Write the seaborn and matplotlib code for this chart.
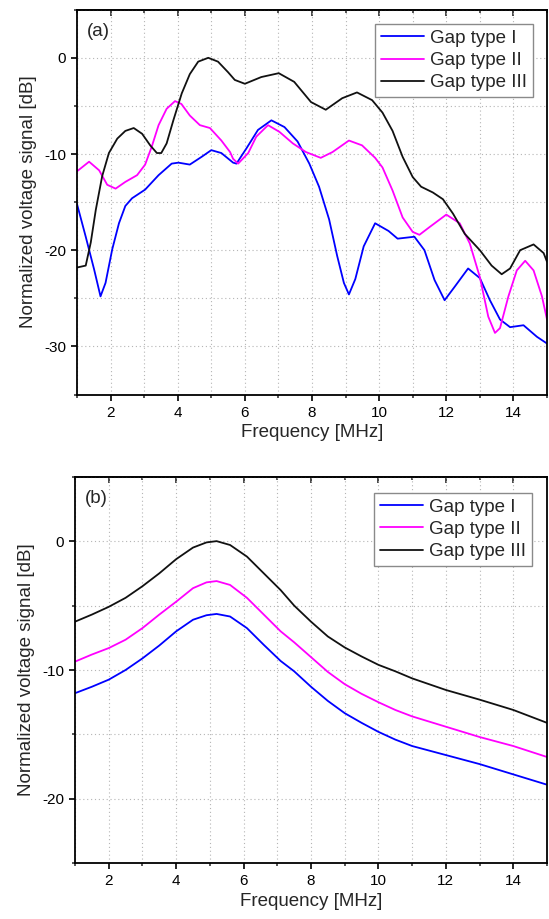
import pandas as pd
import seaborn as sns
import matplotlib
matplotlib.use("Agg")
import matplotlib.pyplot as plt
from matplotlib.ticker import MultipleLocator

sns.set_theme(style="ticks")
plt.rcParams['font.family'] = ['Liberation Sans', 'DejaVu Sans']
plt.rcParams['axes.unicode_minus'] = False

gap_names = ['Gap type I', 'Gap type II', 'Gap type III']
gap_colors = ['#0000ff', '#ff00ff', '#111111']

# panel (a) - measured spectra
gap1_a_freq = [1.0, 1.26, 1.51, 1.70, 1.85, 2.05, 2.25, 2.44, 2.64, 3.03, 3.43, 3.82, 4.02, 4.36,
               4.71, 5.0, 5.3, 5.65, 5.75, 6.05, 6.39, 6.79, 7.18, 7.57, 7.92, 8.21, 8.51, 8.75,
               8.95, 9.1, 9.29, 9.54, 9.88, 10.28, 10.55, 11.05, 11.35, 11.65, 11.95, 12.25,
               12.65, 13.0, 13.3, 13.6, 13.9, 14.3, 14.7, 15.0]
gap1_a_db = [-15.2, -18.6, -22.0, -24.8, -23.4, -19.9, -17.2, -15.4, -14.6, -13.7, -12.2, -11.0,
             -10.9, -11.1, -10.3, -9.6, -9.9, -10.9, -11.0, -9.4, -7.5, -6.5, -7.2, -8.7, -11.0,
             -13.4, -16.8, -20.6, -23.4, -24.6, -23.0, -19.6, -17.2, -18.0, -18.8, -18.6, -20.0,
             -23.1, -25.2, -23.8, -21.9, -22.9, -25.2, -27.2, -28.0, -27.8, -29.0, -29.7]

gap2_a_freq = [1.0, 1.36, 1.66, 1.9, 2.15, 2.44, 2.79, 3.03, 3.23, 3.43, 3.67, 3.92, 4.11, 4.36,
               4.66, 4.96, 5.3, 5.56, 5.65, 5.8, 6.1, 6.34, 6.69, 7.03, 7.43, 7.82, 8.26, 8.61,
               9.1, 9.49, 9.88, 10.1, 10.4, 10.7, 11.0, 11.2, 11.5, 12.0, 12.4, 12.7, 13.0, 13.25,
               13.45, 13.6, 13.85, 14.1, 14.35, 14.6, 14.85, 15.0]
gap2_a_db = [-11.8, -10.8, -11.7, -13.2, -13.6, -12.9, -12.2, -11.1, -9.2, -7.0, -5.3, -4.5, -4.8,
             -6.0, -7.0, -7.3, -8.6, -9.8, -10.5, -11.0, -9.9, -8.2, -7.0, -7.7, -8.9, -9.8, -10.4,
             -9.8, -8.6, -9.1, -10.4, -11.4, -13.8, -16.6, -18.1, -18.4, -17.6, -16.3, -17.2,
             -19.3, -22.8, -26.9, -28.6, -28.1, -24.8, -22.1, -21.1, -22.1, -24.8, -27.2]

gap3_a_freq = [1.0, 1.26, 1.41, 1.56, 1.75, 1.95, 2.2, 2.44, 2.69, 2.94, 3.18, 3.38, 3.51, 3.67,
               3.87, 4.12, 4.36, 4.61, 4.91, 5.2, 5.5, 5.7, 6.0, 6.49, 7.01, 7.47, 7.97, 8.41,
               8.9, 9.34, 9.79, 10.1, 10.4, 10.7, 11.0, 11.25, 11.6, 11.9, 12.2, 12.55, 13.0,
               13.35, 13.65, 13.9, 14.2, 14.6, 14.9, 15.0]
gap3_a_db = [-21.8, -21.6, -19.2, -15.8, -12.3, -9.9, -8.4, -7.6, -7.3, -7.9, -9.1, -9.9, -9.9,
             -8.9, -6.5, -3.7, -1.7, -0.4, 0.0, -0.4, -1.5, -2.3, -2.7, -2.0, -1.6, -2.5, -4.6,
             -5.4, -4.2, -3.6, -4.4, -5.7, -7.6, -10.3, -12.4, -13.4, -14.0, -14.7, -16.2, -18.3,
             -20.0, -21.6, -22.5, -21.9, -20.0, -19.4, -20.3, -21.2]

# panel (b) - simulated spectra
freq_b = [1.0, 1.5, 2.0, 2.5, 3.0, 3.5, 4.0, 4.5, 4.9, 5.2, 5.6, 6.1, 6.6, 7.1, 7.5, 8.0, 8.5,
          9.0, 9.5, 10.0, 10.5, 11.0, 12.0, 13.0, 14.0, 15.0]
gap1_b_db = [-11.8, -11.3, -10.75, -10.0, -9.1, -8.1, -7.0, -6.1, -5.75, -5.65, -5.85, -6.75,
             -8.05, -9.3, -10.1, -11.3, -12.4, -13.35, -14.1, -14.8, -15.4, -15.9, -16.6, -17.3,
             -18.1, -18.9]
gap2_b_db = [-9.35, -8.8, -8.3, -7.65, -6.75, -5.7, -4.7, -3.65, -3.2, -3.1, -3.4, -4.4, -5.7,
             -7.0, -7.85, -9.0, -10.15, -11.1, -11.85, -12.5, -13.1, -13.6, -14.4, -15.2, -15.9,
             -16.75]
gap3_b_db = [-6.25, -5.7, -5.1, -4.4, -3.5, -2.5, -1.4, -0.5, -0.1, 0.0, -0.3, -1.2, -2.5, -3.8,
             -5.0, -6.25, -7.4, -8.25, -8.95, -9.6, -10.1, -10.65, -11.55, -12.3, -13.1, -14.1]


def long_df(freqs, dbs):
    parts = []
    for name, f, d in zip(gap_names, freqs, dbs):
        parts.append(pd.DataFrame({'freq': f, 'db': d, 'gap': name}))
    return pd.concat(parts, ignore_index=True)


df_a = long_df([gap1_a_freq, gap2_a_freq, gap3_a_freq], [gap1_a_db, gap2_a_db, gap3_a_db])
df_b = long_df([freq_b] * 3, [gap1_b_db, gap2_b_db, gap3_b_db])

fig = plt.figure(figsize=(5.49, 9.19), dpi=100)
ax_a = fig.add_axes([77 / 549, 1 - 394.5 / 919, 470 / 549, 384.8 / 919])
ax_b = fig.add_axes([75 / 549, 1 - 863.3 / 919, 472 / 549, 386.6 / 919])


def style_panel(ax, df, ylim, tag, leg_anchor):
    sns.lineplot(data=df, x='freq', y='db', hue='gap', palette=gap_colors,
                 estimator=None, sort=False, lw=1.3, ax=ax)
    ax.set_xlim(1, 15)
    ax.set_ylim(*ylim)
    ax.xaxis.set_major_locator(MultipleLocator(2))
    ax.xaxis.set_minor_locator(MultipleLocator(1))
    ax.yaxis.set_major_locator(MultipleLocator(10))
    ax.yaxis.set_minor_locator(MultipleLocator(5))
    ax.grid(which='both', linestyle=(0, (1, 2.5)), color='#b5b5b5', lw=0.8)
    ax.set_axisbelow(True)
    for sp in ax.spines.values():
        sp.set_linewidth(1.3)
        sp.set_color('black')
    ax.tick_params(which='major', direction='out', length=4, width=1.2,
                   labelsize=11, pad=4, colors='black')
    ax.tick_params(which='minor', direction='out', length=2.3, width=1.1)
    top = ax.secondary_xaxis('top')
    top.xaxis.set_major_locator(MultipleLocator(2))
    top.xaxis.set_minor_locator(MultipleLocator(1))
    top.tick_params(which='major', direction='in', length=4, width=1.2, labeltop=False)
    top.tick_params(which='minor', direction='in', length=2.3, width=1.1)
    top.spines['top'].set_linewidth(1.3)
    ax.set_xlabel('Frequency [MHz]', fontsize=13.5, labelpad=3)
    ax.set_ylabel('Normalized voltage signal [dB]', fontsize=13.5, labelpad=5)
    ax.text(0.02, 0.965, tag, transform=ax.transAxes, fontsize=13.5,
            ha='left', va='top')
    handles, labels = ax.get_legend_handles_labels()
    leg = ax.legend(handles, labels, loc='upper right', bbox_to_anchor=leg_anchor,
                    borderaxespad=0, fontsize=13.5, frameon=True, fancybox=False,
                    framealpha=1, edgecolor='#8a8a8a', borderpad=0.3,
                    labelspacing=0.28, handlelength=2.3, handletextpad=0.35)
    leg.get_frame().set_linewidth(1.0)


style_panel(ax_a, df_a, (-35, 5), '(a)', (0.970, 0.963))
style_panel(ax_b, df_b, (-25, 5), '(b)', (0.968, 0.958))

fig.savefig('out.png', dpi=100)
